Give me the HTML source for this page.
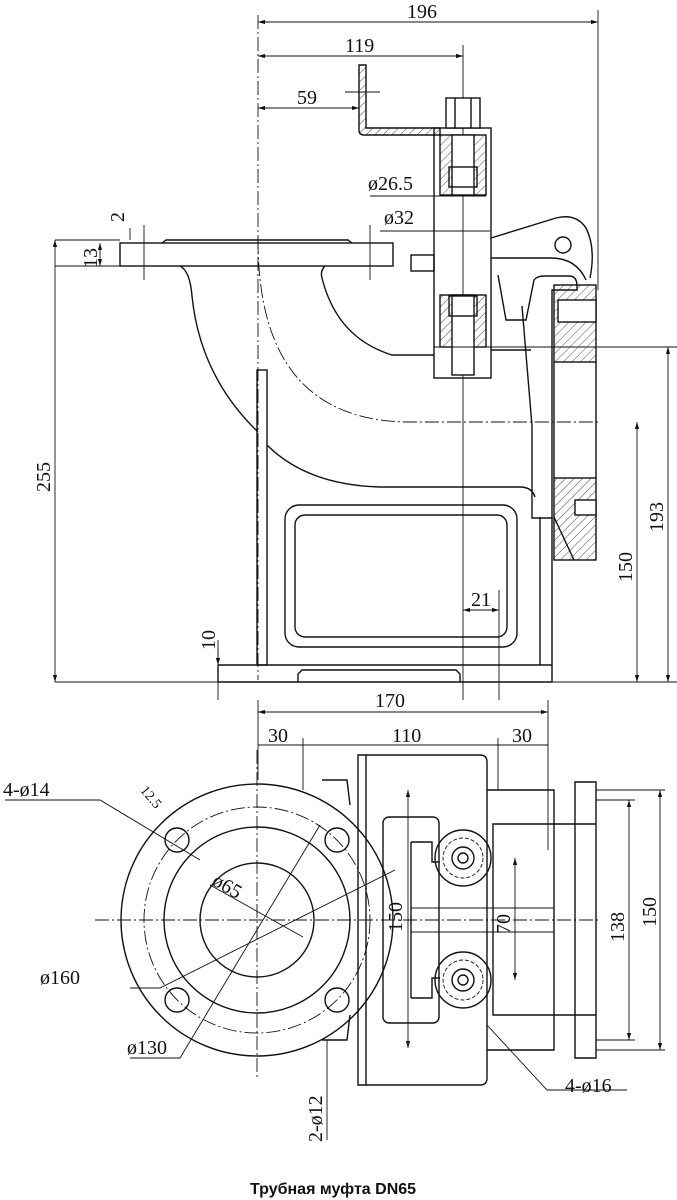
<!DOCTYPE html>
<html><head><meta charset="utf-8"><style>
html,body{margin:0;padding:0;background:#fff;}
svg{display:block}
text{font-family:"Liberation Serif",serif;font-size:20px;fill:#111}
.t{font-family:"Liberation Sans","Noto Sans CJK SC",sans-serif;font-weight:bold;font-size:16px}
</style></head><body>
<svg width="677" height="1200" viewBox="0 0 677 1200" xmlns="http://www.w3.org/2000/svg">
<defs>
<pattern id="h" width="6" height="6" patternUnits="userSpaceOnUse" patternTransform="rotate(45)"><line x1="0" y1="0" x2="0" y2="6" stroke="#222" stroke-width="0.8"/></pattern>
<marker id="a" viewBox="0 0 10 10" refX="10" refY="5" markerWidth="8" markerHeight="8" orient="auto-start-reverse"><path d="M0,2 L10,5 L0,8z" fill="#111"/></marker>
</defs>
<g fill="none" stroke="#111" stroke-width="1.4">
<!-- top dims -->
<line x1="258" y1="15" x2="258" y2="680" stroke-dasharray="14,3,2,3" stroke-width="0.9"/>
<line x1="598" y1="10" x2="598" y2="290" stroke-width="0.9"/>
<line x1="258" y1="22" x2="598" y2="22" marker-start="url(#a)" marker-end="url(#a)" stroke-width="0.9"/>
<line x1="258" y1="56" x2="463" y2="56" marker-start="url(#a)" marker-end="url(#a)" stroke-width="0.9"/>
<line x1="463" y1="45" x2="463" y2="700" stroke-width="0.9"/>
<line x1="258" y1="108" x2="359" y2="108" marker-start="url(#a)" marker-end="url(#a)" stroke-width="0.9"/>
<line x1="345" y1="92" x2="380" y2="92" stroke-width="0.9"/>
<!-- bracket -->
<path d="M359,65 h7 v63 h74 v7 h-76 q-5,0 -5,-5z" fill="url(#h)"/>
<!-- bolt assembly -->
<rect x="434" y="128" width="57" height="250"/>
<rect x="440" y="135" width="46" height="60" fill="url(#h)"/>
<rect x="440" y="295" width="46" height="52" fill="url(#h)"/>
<rect x="452" y="135" width="22" height="60" fill="#fff"/>
<rect x="452" y="295" width="22" height="80" fill="#fff"/>
<rect x="446" y="98" width="34" height="30" fill="#fff"/>
<line x1="455" y1="98" x2="455" y2="128"/><line x1="471" y1="98" x2="471" y2="128"/>
<rect x="449" y="167" width="28" height="20"/>
<rect x="449" y="296" width="28" height="20"/>
<line x1="434" y1="347" x2="677" y2="347" stroke-width="1"/>
<line x1="370" y1="196" x2="486" y2="196" stroke-width="0.9"/>
<line x1="380" y1="231" x2="490" y2="231" stroke-width="0.9"/>
<!-- flange -->
<rect x="120" y="243" width="273" height="23"/>
<path d="M162,243 l4,-3 h182 l4,3"/>
<line x1="144" y1="225" x2="144" y2="280" stroke-width="0.9"/>
<line x1="370" y1="225" x2="370" y2="280" stroke-width="0.9"/>
<line x1="55" y1="240" x2="120" y2="240" stroke-width="0.9"/>
<line x1="55" y1="266" x2="120" y2="266" stroke-width="0.9"/>
<line x1="100" y1="243" x2="100" y2="266" marker-start="url(#a)" marker-end="url(#a)" stroke-width="0.9"/>
<line x1="130" y1="228" x2="130" y2="240" stroke-width="0.9"/>
<rect x="411" y="255" width="23" height="16"/>
<!-- elbow -->
<path d="M180,266 q10,5 12,30 q8,80 66,136"/>
<path d="M267,445 q40,40 113,42 h140 q12,0 15,10"/>
<path d="M325,266 q-5,5 -3,12 q15,60 70,77 h42"/>
<path d="M258,240 q0,180 150,182 h190" stroke-dasharray="14,3,2,3" stroke-width="0.9"/>
<!-- left plate -->
<rect x="257" y="370" width="10" height="295"/>
<!-- body -->
<rect x="285" y="505" width="232" height="142" rx="14"/>
<rect x="295" y="515" width="212" height="122" rx="10"/>
<line x1="540" y1="517" x2="540" y2="665"/>
<line x1="552" y1="517" x2="552" y2="682"/>
<path d="M218,665 h334 M218,665 v17 h334 M298,682 v-8 l4,-4 h154 l4,4 v8"/>
<line x1="218" y1="640" x2="218" y2="700" stroke-width="0.9"/>
<line x1="55" y1="682" x2="677" y2="682" stroke-width="0.9"/>
<!-- vertical pipe and lever -->
<path d="M491,238 l65,-20 q20,-5 30,10 q10,20 4,50"/>
<path d="M491,258 h60 q25,0 35,22"/>
<circle cx="563" cy="245" r="8"/>
<path d="M498,275 l8,45 h20 l8,-40 q3,-4 10,-4 h25 q8,0 8,10 v4 h-25 v228 h-20 v-92 l-10,-120"/>
<path d="M491,350 h40"/>
<rect x="554" y="285" width="42" height="77" fill="url(#h)"/>
<rect x="558" y="300" width="38" height="22" fill="#fff"/>
<rect x="554" y="478" width="42" height="82" fill="url(#h)"/>
<rect x="575" y="500" width="21" height="15" fill="#fff"/>
<line x1="554" y1="362" x2="554" y2="478"/><line x1="596" y1="362" x2="596" y2="478"/>
<path d="M554,517 l20,43"/>
<!-- right dims -->
<line x1="637" y1="422" x2="637" y2="682" marker-start="url(#a)" marker-end="url(#a)" stroke-width="0.9"/>
<line x1="668" y1="347" x2="668" y2="682" marker-start="url(#a)" marker-end="url(#a)" stroke-width="0.9"/>
<line x1="55" y1="240" x2="55" y2="682" marker-start="url(#a)" marker-end="url(#a)" stroke-width="0.9"/>
<line x1="463" y1="610" x2="499" y2="610" marker-start="url(#a)" marker-end="url(#a)" stroke-width="0.9"/>
<line x1="499" y1="590" x2="499" y2="700" stroke-width="0.9"/>
<line x1="218" y1="650" x2="218" y2="665" marker-end="url(#a)" stroke-width="0.9"/>

<!-- bottom view dims -->
<line x1="258" y1="700" x2="258" y2="780" stroke-width="0.9"/>
<line x1="548" y1="700" x2="548" y2="850" stroke-width="0.9"/>
<line x1="258" y1="712" x2="548" y2="712" marker-start="url(#a)" marker-end="url(#a)" stroke-width="0.9"/>
<line x1="258" y1="745" x2="548" y2="745" stroke-width="0.9"/>
<line x1="303" y1="738" x2="303" y2="790" stroke-width="0.9"/>
<line x1="498" y1="738" x2="498" y2="790" stroke-width="0.9"/>
<!-- circle flange -->
<circle cx="257" cy="920" r="136"/>
<circle cx="257" cy="920" r="113" stroke-dasharray="14,3,2,3" stroke-width="0.9"/>
<circle cx="257" cy="920" r="93"/>
<circle cx="257" cy="920" r="57"/>
<g>
<circle cx="177" cy="840" r="12"/><circle cx="337" cy="840" r="12"/>
<circle cx="177" cy="1000" r="12"/><circle cx="337" cy="1000" r="12"/>
</g>
<line x1="95" y1="920" x2="600" y2="920" stroke-dasharray="14,3,2,3" stroke-width="0.9"/>
<line x1="257" y1="750" x2="257" y2="1080" stroke-dasharray="14,3,2,3" stroke-width="0.9"/>
<path d="M5,800 h95 l100,60" stroke-width="0.9"/>
<path d="M210,885 l93,52" stroke-width="0.9"/>
<path d="M130,988 h30 l235,-118" stroke-width="0.9"/>
<path d="M130,1058 h50 l140,-233" stroke-width="0.9"/>
<path d="M322,780 h25 l3,25"/><path d="M322,1040 h25 l3,-25"/>
<!-- body plan -->
<path d="M358,755 h122 q7,0 7,7 v316 q0,7 -7,7 h-122z"/>
<line x1="366" y1="755" x2="366" y2="1085"/>
<rect x="383" y="817" width="56" height="206" rx="6"/>
<path d="M411,842 h21 v20 h8 M411,998 h21 v-20 h8 M411,842 v156"/>
<circle cx="463" cy="858" r="28"/><circle cx="463" cy="858" r="20" stroke-width="0.9" stroke-dasharray="4,2"/><circle cx="463" cy="858" r="11"/><circle cx="463" cy="858" r="5"/>
<circle cx="463" cy="980" r="28"/><circle cx="463" cy="980" r="20" stroke-width="0.9" stroke-dasharray="4,2"/><circle cx="463" cy="980" r="11"/><circle cx="463" cy="980" r="5"/>
<path d="M487,790 h67 v34 h-61 v191 h61 v35 h-67"/>
<path d="M554,824 v191"/>
<path d="M575,782 h21 v276 h-21z"/>
<path d="M554,824 h42 M554,1015 h42"/>
<path d="M411,908 h143 M411,932 h143" stroke-width="0.9"/>
<line x1="408" y1="790" x2="408" y2="1048" marker-start="url(#a)" marker-end="url(#a)" stroke-width="0.9"/>
<line x1="515" y1="858" x2="515" y2="980" marker-start="url(#a)" marker-end="url(#a)" stroke-width="0.9"/>
<line x1="629" y1="800" x2="629" y2="1040" marker-start="url(#a)" marker-end="url(#a)" stroke-width="0.9"/>
<line x1="660" y1="790" x2="660" y2="1050" marker-start="url(#a)" marker-end="url(#a)" stroke-width="0.9"/>
<line x1="596" y1="790" x2="665" y2="790" stroke-width="0.9"/>
<line x1="596" y1="1050" x2="665" y2="1050" stroke-width="0.9"/>
<line x1="596" y1="800" x2="635" y2="800" stroke-width="0.9"/>
<line x1="596" y1="1040" x2="635" y2="1040" stroke-width="0.9"/>
<path d="M487,1025 l60,65 h80" stroke-width="0.9"/>
<line x1="327" y1="1040" x2="327" y2="1140" stroke-width="0.9"/>
</g>
<g>
<text x="407" y="18">196</text>
<text x="345" y="52">119</text>
<text x="297" y="104">59</text>
<text x="368" y="190">ø26.5</text>
<text x="384" y="224">ø32</text>
<text transform="translate(124,222) rotate(-90)">2</text>
<text transform="translate(97,268) rotate(-90)">13</text>
<text transform="translate(50,492) rotate(-90)">255</text>
<text transform="translate(663,532) rotate(-90)">193</text>
<text transform="translate(632,582) rotate(-90)">150</text>
<text x="471" y="606">21</text>
<text transform="translate(215,650) rotate(-90)">10</text>
<text x="375" y="707">170</text>
<text x="268" y="742">30</text>
<text x="392" y="742">110</text>
<text x="512" y="742">30</text>
<text x="3" y="796">4-ø14</text>
<text x="140" y="800" style="font-size:14px" transform="rotate(50 150 795)">12.5</text>
<text x="210" y="892" transform="rotate(30 225 890)">ø65</text>
<text x="40" y="984">ø160</text>
<text x="127" y="1054">ø130</text>
<text transform="translate(402,932) rotate(-90)">150</text>
<text transform="translate(510,934) rotate(-90)">70</text>
<text transform="translate(624,942) rotate(-90)">138</text>
<text transform="translate(656,927) rotate(-90)">150</text>
<text x="565" y="1092">4-ø16</text>
<text transform="translate(322,1142) rotate(-90)">2-ø12</text>
<text x="250" y="1194" class="t">Трубная муфта DN65</text>
</g>
</svg>
</body></html>
